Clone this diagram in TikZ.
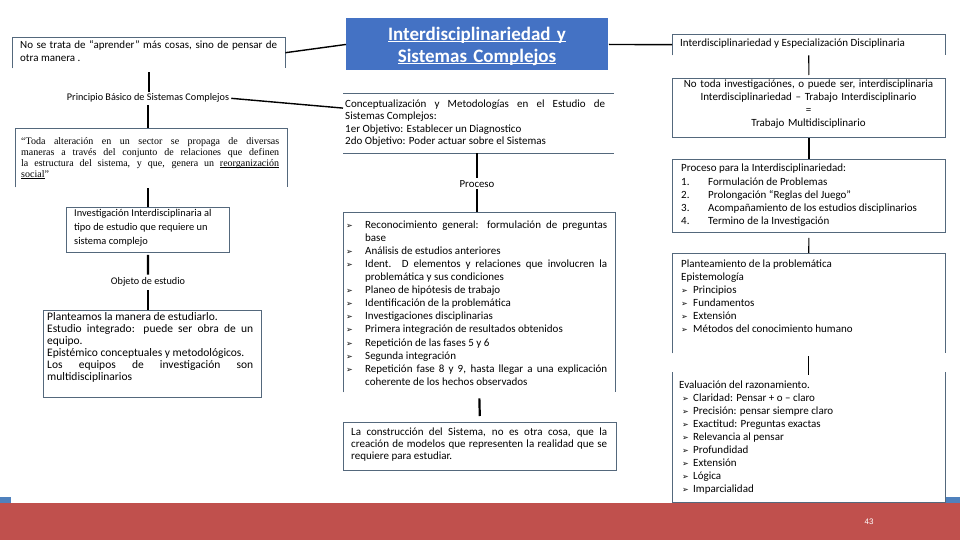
\documentclass[tikz,border=0pt]{standalone}
\usepackage{fontspec}
\setmainfont{Carlito}
\newfontfamily\serifont{Liberation Serif}
\newfontfamily\dejavu{DejaVu Sans}
\newfontfamily\arialf{Liberation Sans}
\usetikzlibrary{calc}
\definecolor{bcol}{RGB}{84,104,124}
\definecolor{titlefill}{RGB}{68,114,196}
\definecolor{barred}{RGB}{192,80,77}
\definecolor{barblue}{RGB}{79,129,189}
\newcommand\bul{{\dejavu\fontsize{8}{8}\selectfont ➢}}
\newcommand\myul[2][0.9pt]{\leavevmode\setbox0\hbox{#2}\rlap{\rule[-1.8pt]{\wd0}{#1}}\box0}
\newcommand\pitem[1]{\noindent\hangindent=19pt\hangafter=1\makebox[19pt][l]{\bul}#1\par}
\begin{document}
\begin{tikzpicture}[x=1pt,y=-1pt,
  frame/.style={draw=bcol, line width=0.9pt, fill=white, inner sep=0pt, anchor=north west},
  openframe/.style={draw=none, fill=white, inner sep=0pt, anchor=north west},
  edge/.style={draw=bcol, line width=0.9pt},
  txt/.style={inner sep=0pt, anchor=north west, align=justify},
  lbl/.style={inner sep=2pt, anchor=base, font=\fontsize{10.2}{12}\selectfont},
  conn/.style={draw=black, line width=1.1pt},
  thickconn/.style={draw=black, line width=2.2pt},
  diag/.style={draw=black, line width=1.4pt}]
\useasboundingbox (0,0) rectangle (960,540);
\fill[white] (0,0) rectangle (960,540);
% bottom bars
\fill[barred] (0,503) rectangle (960,540);
\fill[barblue] (0,497) rectangle (11,503);
\fill[barblue] (945,497) rectangle (960,503);
\node[text=white, inner sep=0pt, font=\arialf\fontsize{8}{8}\selectfont] (pg) at (869,522) {43};

% ---------- left column ----------
\node[openframe, minimum width=273pt, minimum height=31pt] (b1) at (12,37) {};
\draw[edge] (b1.south west) |- (b1.north east) -- (b1.south east);
\node[txt, text width=257pt, font=\fontsize{11}{13}\selectfont] (t1) at (20,38.9)
 {\strut No se trata de “aprender” más cosas, sino de pensar de\linebreak otra manera .};

\node[lbl] (princ) at (148,101) {Principio Básico de Sistemas Complejos};

\node[openframe, minimum width=272pt, minimum height=59pt] (b2) at (15,128) {};
\draw[edge] (b2.south west) |- (b2.north east) -- (b2.south east);
\node[txt, text width=258pt, font=\serifont\fontsize{10}{11}\selectfont] (t2) at (21,136.3)
 {\strut “Toda alteración en un sector se propaga de diversas\linebreak maneras a través del conjunto de relaciones que definen\linebreak la estructura del sistema, y que, genera un \myul[0.5pt]{reorganización}\linebreak \myul[0.5pt]{social}”};

\node[frame, minimum width=163pt, minimum height=45pt] (b3) at (66,207) {};
\node[txt, align=left, font=\fontsize{10.4}{14}\selectfont] (t3) at (74,206.2)
 {\strut Investigación Interdisciplinaria al\\tipo de estudio que requiere un\\sistema complejo};

\node[lbl] (obj) at (148,284) {Objeto de estudio};

\node[frame, minimum width=218pt, minimum height=87pt] (b4) at (43,310) {};
\node[txt, text width=206pt, font=\fontsize{11.5}{12}\selectfont] (t4) at (47,311.6)
 {\strut Planteamos la manera de estudiarlo.\newline Estudio integrado: puede ser obra de un\linebreak equipo.\newline Epistémico conceptuales y metodológicos.\newline Los equipos de investigación son\linebreak multidisciplinarios};

% ---------- centre column ----------
\node[frame, draw=none, fill=titlefill, minimum width=262pt, minimum height=52pt] (title) at (346,18) {};
\node[inner sep=0pt, anchor=north, text width=262pt, align=center, text=white,
      font=\bfseries\fontsize{19}{22}\selectfont] (titletext) at (477,24.6)
 {\strut\myul[1.1pt]{Interdisciplinariedad y}\\\myul[1.1pt]{Sistemas Complejos}};

\node[openframe, minimum width=271pt, minimum height=60pt] (conc) at (343,93) {};
\draw[edge] (conc.north west) -- (conc.north east);
\draw[edge] (conc.south west) -- (conc.south east);
\node[txt, text width=260pt, font=\fontsize{11}{12.2}\selectfont] (tc) at (345,99)
 {\strut Conceptualización y Metodologías en el Estudio de\linebreak Sistemas Complejos:\newline 1er Objetivo: Establecer un Diagnostico\newline 2do Objetivo: Poder actuar sobre el Sistemas};

\node[lbl, font=\fontsize{10.8}{12}\selectfont] (proc) at (477,187) {Proceso};

\node[openframe, minimum width=272pt, minimum height=180pt] (b5) at (343,212) {};
\draw[edge] (b5.south west) |- (b5.north east) -- (b5.south east);
\node[txt, text width=261pt, font=\fontsize{11}{13.1}\selectfont] (t5) at (346,218.8)
 {\strut\pitem{Reconocimiento general: formulación de preguntas\linebreak base}
  \pitem{Análisis de estudios anteriores}
  \pitem{Ident. D elementos y relaciones que involucren la\linebreak problemática y sus condiciones}
  \pitem{Planeo de hipótesis de trabajo}
  \pitem{Identificación de la problemática}
  \pitem{Investigaciones disciplinarias}
  \pitem{Primera integración de resultados obtenidos}
  \pitem{Repetición de las fases 5 y 6}
  \pitem{Segunda integración}
  \pitem{Repetición fase 8 y 9, hasta llegar a una explicación\linebreak coherente de los hechos observados}};

\node[frame, minimum width=273pt, minimum height=48pt] (b6) at (343,422) {};
\node[txt, text width=256pt, font=\fontsize{11}{12.3}\selectfont] (t6) at (351,426.4)
 {\strut La construcción del Sistema, no es otra cosa, que la\linebreak creación de modelos que representen la realidad que se\linebreak requiere para estudiar.};

% ---------- right column ----------
\node[openframe, minimum width=273pt, minimum height=21pt] (r1) at (672,34) {};
\draw[edge] (r1.south west) |- (r1.north east) -- (r1.south east);
\node[inner sep=0pt, anchor=base west, font=\fontsize{11}{12}\selectfont] (tr1) at (680,47)
 {Interdisciplinariedad y Especialización Disciplinaria};

\node[frame, minimum width=273pt, minimum height=59pt] (r2) at (672,78) {};
\node[inner sep=0pt, anchor=north, text width=273pt, align=center, font=\fontsize{11}{13}\selectfont] (tr2) at (808.5,78.4)
 {\strut No toda investigaciónes, o puede ser, interdisciplinaria\\Interdisciplinariedad – Trabajo Interdisciplinario\\=\\Trabajo Multidisciplinario};

\node[frame, minimum width=273pt, minimum height=73pt] (r3) at (672,159) {};
\node[txt, align=left, font=\fontsize{11}{13.3}\selectfont] (tr3) at (681,162.2)
 {\strut Proceso para la Interdisciplinariedad:\\
  \makebox[27pt][l]{1.}Formulación de Problemas\\
  \makebox[27pt][l]{2.}Prolongación “Reglas del Juego”\\
  \makebox[27pt][l]{3.}Acompañamiento de los estudios disciplinarios\\
  \makebox[27pt][l]{4.}Termino de la Investigación};

\node[openframe, minimum width=273pt, minimum height=100pt] (r4) at (672,253) {};
\draw[edge] (r4.south west) |- (r4.north east) -- (r4.south east);
\node[txt, align=left, font=\fontsize{11}{13}\selectfont] (tr4) at (681,257.9)
 {\strut Planteamiento de la problemática\\
  Epistemología\\
  \makebox[12pt][l]{\bul}Principios\\
  \makebox[12pt][l]{\bul}Fundamentos\\
  \makebox[12pt][l]{\bul}Extensión\\
  \makebox[12pt][l]{\bul}Métodos del conocimiento humano};

\node[openframe, minimum width=273pt, minimum height=130pt] (r5) at (672,372) {};
\draw[edge] (r5.north west) -- (r5.south west) -- (r5.south east) -- (r5.north east);
\node[txt, align=left, font=\fontsize{11}{13.1}\selectfont] (tr5) at (679,378.8)
 {\strut Evaluación del razonamiento.\\
  \makebox[14pt][l]{\hspace{3pt}\bul}Claridad: Pensar + o – claro\\
  \makebox[14pt][l]{\hspace{3pt}\bul}Precisión: pensar siempre claro\\
  \makebox[14pt][l]{\hspace{3pt}\bul}Exactitud: Preguntas exactas\\
  \makebox[14pt][l]{\hspace{3pt}\bul}Relevancia al pensar\\
  \makebox[14pt][l]{\hspace{3pt}\bul}Profundidad\\
  \makebox[14pt][l]{\hspace{3pt}\bul}Extensión\\
  \makebox[14pt][l]{\hspace{3pt}\bul}Lógica\\
  \makebox[14pt][l]{\hspace{3pt}\bul}Imparcialidad};

% ---------- connectors ----------
\draw[diag] (b1.east) -- (title.west);
\draw[diag] (title.east) -- (r1.west);
\coordinate (concin) at ($(conc.north west)!0.25!(conc.south west)$);
\draw[diag] (princ.east) -- (concin);

\draw[thickconn, shorten <=4pt] (b1.south) -- (b1.south |- princ.north);
\draw[conn] (princ.south) -- (princ.south |- b2.north);
\draw[thickconn, shorten <=1pt] (b3.north |- b2.south) -- (b3.north);
\draw[thickconn, shorten <=2pt] (b3.south) -- (obj.north);
\draw[thickconn, shorten <=2pt] (obj.south) -- (obj.south |- b4.north);

\draw[conn] (proc.north |- conc.south) -- (proc.north);
\draw[conn] (proc.south) -- (proc.south |- b5.north);
\draw[thickconn, shorten <=6pt, shorten >=6pt] (b5.south) -- (b6.north);

\draw[conn, shorten >=3pt] (r1.south) -- (r2.north);
\draw[conn] (r2.south) -- (r3.north);
\draw[conn, shorten <=5pt] (r3.south) -- (r4.north);
\draw[conn, shorten <=3pt] (r4.south) -- ($(r5.north)+(0,3)$);
\end{tikzpicture}
\end{document}
